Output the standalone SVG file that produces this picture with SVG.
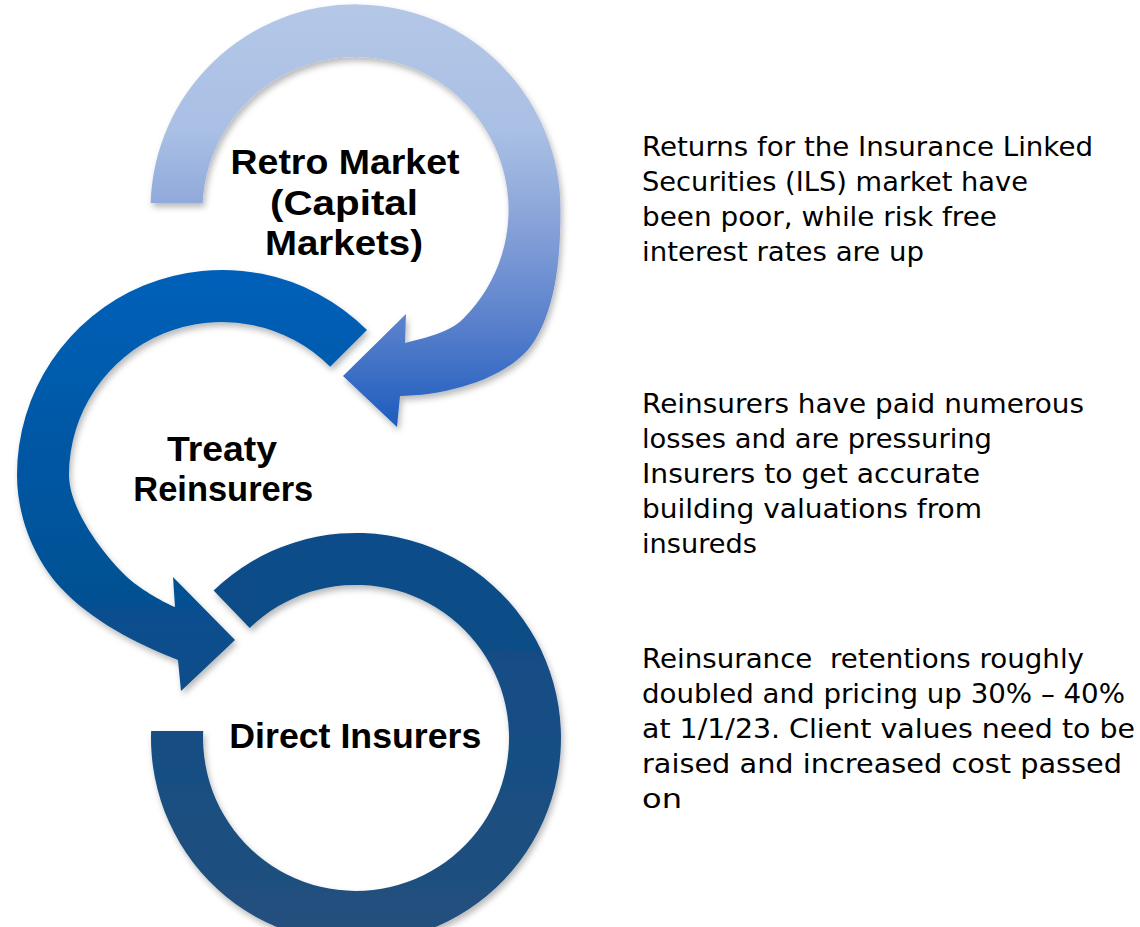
<svg xmlns="http://www.w3.org/2000/svg" width="1140" height="927" viewBox="0 0 1140 927">
  <defs>
    <linearGradient id="gradRetro" gradientUnits="userSpaceOnUse" x1="0" y1="5" x2="0" y2="430">
      <stop offset="0" stop-color="#B4C7E7"/>
      <stop offset="0.3" stop-color="#A9BFE4"/>
      <stop offset="0.47" stop-color="#90A9DB"/>
      <stop offset="0.75" stop-color="#5A80CC"/>
      <stop offset="1" stop-color="#1A5BBE"/>
    </linearGradient>
    <linearGradient id="gradTreaty" gradientUnits="userSpaceOnUse" x1="0" y1="270" x2="0" y2="692">
      <stop offset="0" stop-color="#0060B9"/>
      <stop offset="1" stop-color="#084C87"/>
    </linearGradient>
    <linearGradient id="gradDirect" gradientUnits="userSpaceOnUse" x1="0" y1="533" x2="0" y2="943">
      <stop offset="0" stop-color="#0A4C8A"/>
      <stop offset="1" stop-color="#23507C"/>
    </linearGradient>
    <filter id="shadow" x="-10%" y="-10%" width="120%" height="120%">
      <feDropShadow dx="2" dy="4" stdDeviation="3" flood-color="#000000" flood-opacity="0.28"/>
    </filter>
  </defs>
  <style>
    .ring { filter: url(#shadow); }
    .label { font-family: "Liberation Sans", Arial, sans-serif; font-weight: bold; font-size: 35px; fill: #000000; text-anchor: middle; }
    .note { font-family: "DejaVu Sans", "Liberation Sans", sans-serif; font-size: 27px; fill: #000000; white-space: pre; }
  </style>

  <rect x="0" y="0" width="1140" height="927" fill="#FFFFFF"/>

  <!-- Retro market: clockwise ring ending in an arrowhead at lower left -->
  <g id="node-retro-market">
    <path class="ring" fill="url(#gradRetro)"
      d="M 150.6 203 A 205 205 0 0 1 560.5 210 C 560.5 260 555.6 305.7 535 340 C 511.9 378.6 445 396 400 396 L 397 427 L 343 376 L 406 314 L 405 343 C 425 337.7 448.7 333.2 463.7 318.2 A 153 153 0 1 0 202.7 203 Z"/>
    <text class="label" x="345" y="174" textLength="229" lengthAdjust="spacingAndGlyphs">Retro Market</text>
    <text class="label" x="344" y="214.5" textLength="148" lengthAdjust="spacingAndGlyphs">(Capital</text>
    <text class="label" x="344" y="255" textLength="158" lengthAdjust="spacingAndGlyphs">Markets)</text>
  </g>

  <!-- Treaty reinsurers: counter-clockwise ring ending in an arrowhead at lower right -->
  <g id="node-treaty-reinsurers">
    <path class="ring" fill="url(#gradTreaty)"
      d="M 367 330 A 205 205 0 0 0 17 475 C 17 515 33 557.5 60 587 C 90.4 620.2 136.1 643.6 178 660 L 181 691 L 235 640 L 173 577 L 175 607 C 161.1 601.4 137.6 587 126.7 576.7 C 104.9 556.1 69 510 69 475 A 153 153 0 0 1 330.2 366.8 Z"/>
    <text class="label" x="222" y="460.5" textLength="110" lengthAdjust="spacingAndGlyphs">Treaty</text>
    <text class="label" x="223.3" y="501" textLength="180" lengthAdjust="spacingAndGlyphs">Reinsurers</text>
  </g>

  <!-- Direct insurers: open ring with two flat ends -->
  <g id="node-direct-insurers">
    <path class="ring" fill="url(#gradDirect)"
      d="M 213.6 590.5 A 205 205 0 1 1 151.1 731 L 203.2 731 A 153 153 0 1 0 249.7 627.9 Z"/>
    <text class="label" x="355.3" y="748" textLength="252" lengthAdjust="spacingAndGlyphs">Direct Insurers</text>
  </g>

  <!-- Explanatory notes -->
  <g id="note-retro-market">
    <text class="note" x="642" y="156" textLength="451" lengthAdjust="spacingAndGlyphs">Returns for the Insurance Linked</text>
    <text class="note" x="642" y="191" textLength="386" lengthAdjust="spacingAndGlyphs">Securities (ILS) market have</text>
    <text class="note" x="642" y="226" textLength="355" lengthAdjust="spacingAndGlyphs">been poor, while risk free</text>
    <text class="note" x="642" y="261" textLength="282" lengthAdjust="spacingAndGlyphs">interest rates are up</text>
  </g>

  <g id="note-treaty-reinsurers">
    <text class="note" x="642" y="413" textLength="442" lengthAdjust="spacingAndGlyphs">Reinsurers have paid numerous</text>
    <text class="note" x="642" y="448" textLength="350" lengthAdjust="spacingAndGlyphs">losses and are pressuring</text>
    <text class="note" x="642" y="483" textLength="338" lengthAdjust="spacingAndGlyphs">Insurers to get accurate</text>
    <text class="note" x="642" y="518" textLength="340" lengthAdjust="spacingAndGlyphs">building valuations from</text>
    <text class="note" x="642" y="553" textLength="115" lengthAdjust="spacingAndGlyphs">insureds</text>
  </g>

  <g id="note-direct-insurers">
    <text class="note" x="642" y="668" textLength="442" lengthAdjust="spacingAndGlyphs">Reinsurance  retentions roughly</text>
    <text class="note" x="642" y="703" textLength="483" lengthAdjust="spacingAndGlyphs">doubled and pricing up 30% – 40%</text>
    <text class="note" x="642" y="738" textLength="493" lengthAdjust="spacingAndGlyphs">at 1/1/23. Client values need to be</text>
    <text class="note" x="642" y="773" textLength="480" lengthAdjust="spacingAndGlyphs">raised and increased cost passed</text>
    <text class="note" x="642" y="808" textLength="40" lengthAdjust="spacingAndGlyphs">on</text>
  </g>
</svg>
